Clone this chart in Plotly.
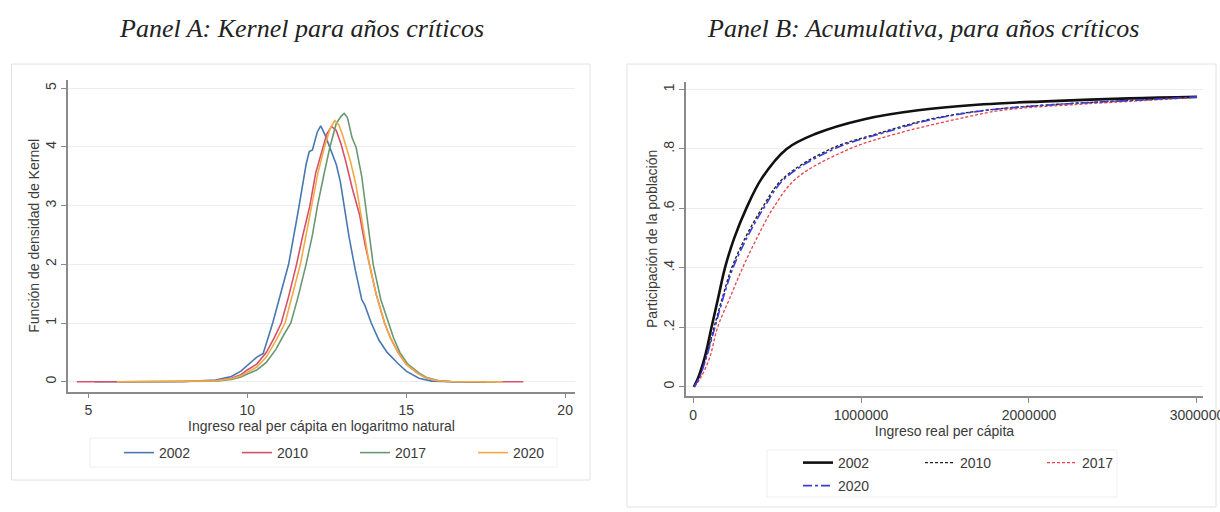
import plotly.graph_objects as go

# ---------------- Panel A: kernel densities (log real income per capita) ----------------
years = ["2002", "2010", "2017", "2020"]

ka_x_2002 = [5.2, 8.0, 9.0, 9.5, 9.8, 10.0, 10.3, 10.5, 10.8, 11.0, 11.3, 11.6, 11.85, 11.95, 12.05,
             12.2, 12.31, 12.45, 12.6, 12.8, 12.93, 13.1, 13.2, 13.4, 13.6, 13.7, 13.9, 14.14, 14.4,
             14.74, 15.0, 15.4, 15.8, 16.5, 17.5]
ka_y_2002 = [0, 0.005, 0.03, 0.09, 0.18, 0.28, 0.42, 0.48, 1.0, 1.4, 2.0, 2.9, 3.7, 3.92, 3.95,
             4.25, 4.36, 4.2, 4.0, 3.7, 3.4, 2.8, 2.47, 1.9, 1.4, 1.3, 1.0, 0.71, 0.5,
             0.31, 0.18, 0.06, 0.01, 0.0, 0]

ka_x_2010 = [4.64, 6.0, 8.0, 9.0, 9.5, 9.8, 10.0, 10.3, 10.6, 10.85, 11.07, 11.3, 11.55, 11.75, 11.97,
             12.15, 12.37, 12.5, 12.65, 12.8, 12.95, 13.1, 13.3, 13.53, 13.7, 13.84, 14.05, 14.32, 14.5,
             14.74, 15.0, 15.34, 15.6, 15.94, 16.3, 17.0, 18.68]
ka_y_2010 = [0, 0, 0.005, 0.02, 0.06, 0.12, 0.2, 0.3, 0.5, 0.75, 1.0, 1.45, 2.0, 2.5, 3.0,
             3.55, 4.0, 4.22, 4.35, 4.28, 4.05, 3.75, 3.3, 2.85, 2.35, 2.0, 1.5, 1.0, 0.75,
             0.5, 0.3, 0.15, 0.07, 0.02, 0.005, 0, 0]

ka_x_2017 = [6.0, 8.0, 9.0, 9.5, 9.8, 10.0, 10.3, 10.6, 10.9, 11.15, 11.37, 11.6, 11.85, 12.05, 12.21,
             12.4, 12.6, 12.8, 12.95, 13.05, 13.15, 13.3, 13.42, 13.6, 13.72, 13.85, 13.96, 14.2, 14.44,
             14.6, 14.8, 15.05, 15.4, 15.65, 16.0, 16.4, 17.8]
ka_y_2017 = [0, 0.003, 0.01, 0.04, 0.08, 0.13, 0.2, 0.33, 0.55, 0.8, 1.0, 1.45, 2.0, 2.5, 3.0,
             3.5, 4.0, 4.4, 4.52, 4.57, 4.5, 4.15, 4.0, 3.5, 3.0, 2.45, 2.0, 1.4, 1.0,
             0.75, 0.5, 0.3, 0.15, 0.07, 0.02, 0.005, 0]

ka_x_2020 = [5.9, 8.0, 9.0, 9.5, 9.8, 10.0, 10.3, 10.6, 10.9, 11.19, 11.4, 11.67, 11.85, 12.03, 12.22,
             12.43, 12.6, 12.75, 12.88, 13.0, 13.11, 13.25, 13.42, 13.55, 13.7, 13.84, 14.05, 14.32, 14.5,
             14.74, 15.0, 15.34, 15.6, 15.94, 16.3, 18.04]
ka_y_2020 = [0, 0.004, 0.015, 0.05, 0.1, 0.16, 0.25, 0.42, 0.7, 1.0, 1.45, 2.0, 2.5, 3.0, 3.55,
             4.0, 4.3, 4.45, 4.38, 4.2, 4.0, 3.75, 3.35, 2.95, 2.45, 2.0, 1.5, 1.0, 0.75,
             0.5, 0.3, 0.15, 0.07, 0.02, 0.005, 0]

ka_xticks = [5, 10, 15, 20]
ka_yticks = [0, 1, 2, 3, 4, 5]

# ---------------- Panel B: cumulative distributions (real income per capita) ----------------
cb_y = [0.0, 0.03, 0.1, 0.2, 0.3, 0.4, 0.5, 0.6, 0.7, 0.8, 0.85, 0.9, 0.93, 0.95, 0.96, 0.97, 0.975]
cb_x_2002 = [5000, 30000, 70000, 110000, 150000, 190000, 245000, 317000, 408000, 557000, 726000,
             1020000, 1340000, 1730000, 2100000, 2600000, 3000000]
cb_x_2010 = [5000, 35000, 78000, 125000, 175000, 230000, 310000, 410000, 535000, 820000, 1090000,
             1410000, 1740000, 2170000, 2500000, 2850000, 3000000]
cb_x_2017 = [8000, 45000, 100000, 146000, 220000, 295000, 380000, 476000, 613000, 932000, 1205000,
             1570000, 1840000, 2300000, 2600000, 2900000, 3000000]
cb_x_2020 = [5000, 37000, 80000, 130000, 180000, 238000, 320000, 420000, 545000, 840000, 1110000,
             1430000, 1750000, 2180000, 2500000, 2850000, 3000000]

cb_xticks = [0, 1000000, 2000000, 3000000]
cb_xticktext = ["0", "1000000", "2000000", "3000000"]
cb_yticks = [0, 0.2, 0.4, 0.6, 0.8, 1]
cb_yticktext = ["0", ".2", ".4", ".6", ".8", "1"]

W, H = 1220, 512
FONT = "Liberation Sans, Arial, sans-serif"
SERIF = "Liberation Serif, Times New Roman, serif"
TXT = "#3a3a3a"
AX = "#8a8a8a"


def px(x):
    return x / W


def py(y):
    return 1 - y / H


fig = go.Figure()

ka_colors = ["#4a78b2", "#d6506c", "#6a9872", "#f2aa45"]
ka_data = [(ka_x_2002, ka_y_2002), (ka_x_2010, ka_y_2010), (ka_x_2017, ka_y_2017), (ka_x_2020, ka_y_2020)]
for yr, (xs, ys), c in zip(years, ka_data, ka_colors):
    fig.add_trace(go.Scatter(x=xs, y=ys, mode="lines", name=yr, line=dict(color=c, width=1.6),
                             xaxis="x", yaxis="y", legend="legend", showlegend=True))

cb_styles = [("#111111", "solid", 2.6), ("#222222", "3px,2px", 1.4),
             ("#e8424a", "3px,2px", 1.3), ("#3b3bd8", "9px,3px,3px,3px", 1.6)]
cb_legends = ["legend2", "legend2", "legend2", "legend3"]
cb_data = [cb_x_2002, cb_x_2010, cb_x_2017, cb_x_2020]
for yr, xs, (c, d, w), lg in zip(years, cb_data, cb_styles, cb_legends):
    fig.add_trace(go.Scatter(x=xs, y=cb_y, mode="lines", name=yr,
                             line=dict(color=c, dash=d, width=w, shape="spline"),
                             xaxis="x2", yaxis="y2", legend=lg, showlegend=True))

axis_common = dict(showline=True, linecolor=AX, linewidth=1.5, ticks="outside", ticklen=5,
                   tickcolor=AX, tickwidth=1, zeroline=False, automargin=False,
                   ticklabeloverflow="allow",
                   tickfont=dict(family=FONT, size=14, color=TXT))

legend_common = dict(orientation="h", xanchor="left", yanchor="top", borderwidth=0,
                     bgcolor="rgba(0,0,0,0)", entrywidthmode="pixels",
                     font=dict(family=FONT, size=14, color=TXT))

fig.update_layout(
    width=W, height=H, margin=dict(l=0, r=0, t=0, b=0, autoexpand=False),
    paper_bgcolor="white", plot_bgcolor="white",
    font=dict(family=FONT, size=14, color=TXT),
    xaxis=dict(domain=[px(68), px(575)], range=[4.36, 20.31], anchor="y",
               tickmode="array", tickvals=ka_xticks, showgrid=False,
               title=dict(text="Ingreso real per cápita en logaritmo natural", standoff=4,
                          font=dict(family=FONT, size=14, color=TXT)), **axis_common),
    yaxis=dict(domain=[py(391.7), py(80)], range=[-0.17, 5.14], anchor="x",
               tickmode="array", tickvals=ka_yticks, tickangle=-90, showgrid=True,
               gridcolor="#ececec", gridwidth=1,
               title=dict(text="Función de densidad de Kernel", standoff=0,
                          font=dict(family=FONT, size=14, color=TXT)), **axis_common),
    xaxis2=dict(domain=[px(686), px(1203)], range=[-42000, 3036000], anchor="y2",
                tickmode="array", tickvals=cb_xticks, ticktext=cb_xticktext, showgrid=False,
                title=dict(text="Ingreso real per cápita", standoff=2,
                           font=dict(family=FONT, size=14, color=TXT)), **axis_common),
    yaxis2=dict(domain=[py(396), py(81.7)], range=[-0.031, 1.026], anchor="x2",
                tickmode="array", tickvals=cb_yticks, ticktext=cb_yticktext, tickangle=-90,
                showgrid=True, gridcolor="#ececec", gridwidth=1,
                title=dict(text="Participación de la población", standoff=0,
                           font=dict(family=FONT, size=14, color=TXT)), **axis_common),
    legend=dict(x=px(119), y=py(437), entrywidth=73, **legend_common),
    legend2=dict(x=px(798), y=py(447), entrywidth=77, **legend_common),
    legend3=dict(x=px(798), y=py(470), entrywidth=77, **legend_common),
    shapes=[
        # panel frames
        dict(type="rect", xref="paper", yref="paper", x0=px(11.5), x1=px(590), y0=py(480), y1=py(64),
             line=dict(color="#e2e2e2", width=1), fillcolor="rgba(0,0,0,0)", layer="below"),
        dict(type="rect", xref="paper", yref="paper", x0=px(627), x1=px(1216), y0=py(507), y1=py(64),
             line=dict(color="#e2e2e2", width=1), fillcolor="rgba(0,0,0,0)", layer="below"),
        # legend frames
        dict(type="rect", xref="paper", yref="paper", x0=px(90), x1=px(557), y0=py(467), y1=py(438),
             line=dict(color="#efefef", width=1), fillcolor="rgba(0,0,0,0)", layer="below"),
        dict(type="rect", xref="paper", yref="paper", x0=px(767), x1=px(1117), y0=py(497), y1=py(450),
             line=dict(color="#efefef", width=1), fillcolor="rgba(0,0,0,0)", layer="below"),
    ],
    annotations=[
        dict(text="<i>Panel A: Kernel para años críticos</i>", xref="paper", yref="paper",
             x=px(301), y=py(28), xanchor="center", yanchor="middle", showarrow=False,
             font=dict(family=SERIF, size=26, color="#222222")),
        dict(text="<i>Panel B: Acumulativa, para años críticos</i>", xref="paper", yref="paper",
             x=px(923), y=py(28), xanchor="center", yanchor="middle", showarrow=False,
             font=dict(family=SERIF, size=26, color="#222222")),
    ],
)

fig.write_html("out.html")
